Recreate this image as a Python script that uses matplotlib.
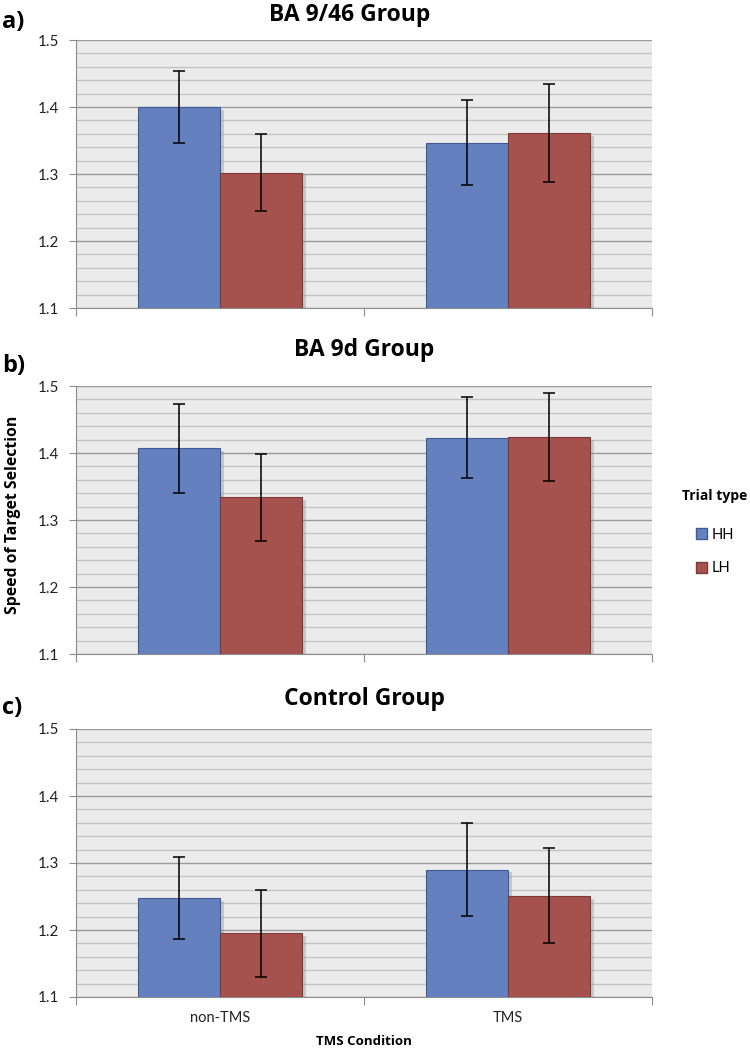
import matplotlib
matplotlib.use("Agg")
import matplotlib.pyplot as plt
import matplotlib.patheffects as pe
import numpy as np
from matplotlib.ticker import MultipleLocator
from matplotlib.patches import Patch

plt.rcParams['font.family'] = ['Lato', 'DejaVu Sans']
BOLD = ['Open Sans', 'DejaVu Sans']

categories = ["non-TMS", "TMS"]
series = ["HH", "LH"]
panel_titles = ["BA 9/46 Group", "BA 9d Group", "Control Group"]
panel_labels = ["a)", "b)", "c)"]

a_hh = [1.400, 1.347]
a_hh_err = [0.053, 0.063]
a_lh = [1.302, 1.361]
a_lh_err = [0.057, 0.073]

b_hh = [1.407, 1.423]
b_hh_err = [0.066, 0.060]
b_lh = [1.334, 1.424]
b_lh_err = [0.065, 0.066]

c_hh = [1.248, 1.290]
c_hh_err = [0.061, 0.069]
c_lh = [1.195, 1.251]
c_lh_err = [0.065, 0.071]

panels = [(a_hh, a_hh_err, a_lh, a_lh_err),
          (b_hh, b_hh_err, b_lh, b_lh_err),
          (c_hh, c_hh_err, c_lh, c_lh_err)]

blue = "#6580BE"
red = "#A5524F"
blue_edge = "#3F5A96"
red_edge = "#7E3A38"

W, H = 750, 1053
fig = plt.figure(figsize=(W / 100, H / 100), dpi=100)

tops = [40, 386, 729]
bottoms = [308, 654, 997]
left_px, right_px = 76, 652
title_x = [350, 364, 364]
title_base = [21, 356, 705]
label_base = [28, 372, 714]

width = 0.285
x = np.arange(len(categories))
shadow = [pe.SimplePatchShadow(offset=(3, -2), shadow_rgbFace='#888888', alpha=0.35), pe.Normal()]

for i, (hh, hh_e, lh, lh_e) in enumerate(panels):
    ax = fig.add_axes([left_px / W, 1 - bottoms[i] / H,
                       (right_px - left_px) / W, (bottoms[i] - tops[i]) / H])
    ax.set_facecolor("#EBEBEB")
    ax.set_ylim(1.1, 1.5)
    ax.set_xlim(-0.5, 1.5)
    ax.yaxis.set_major_locator(MultipleLocator(0.1))
    ax.yaxis.set_minor_locator(MultipleLocator(0.02))
    ax.grid(axis='y', which='major', color='#9A9A9A', lw=1.0, zorder=0)
    ax.grid(axis='y', which='minor', color='#C4C4C4', lw=1.0, zorder=0)
    ax.set_axisbelow(True)

    b1 = ax.bar(x - width / 2, hh, width, color=blue, edgecolor=blue_edge, lw=0.8, zorder=3)
    b2 = ax.bar(x + width / 2, lh, width, color=red, edgecolor=red_edge, lw=0.8, zorder=3)
    for b in list(b1) + list(b2):
        b.set_path_effects(shadow)
    ax.errorbar(x - width / 2, hh, yerr=hh_e, fmt='none', ecolor='black',
                elinewidth=1.1, capsize=4, capthick=1.1, zorder=4)
    ax.errorbar(x + width / 2, lh, yerr=lh_e, fmt='none', ecolor='black',
                elinewidth=1.1, capsize=4, capthick=1.1, zorder=4)

    for s in ['top', 'right']:
        ax.spines[s].set_visible(False)
    ax.spines['left'].set_color('#8C8C8C')
    ax.spines['bottom'].set_color('#8C8C8C')
    ax.tick_params(axis='y', which='major', length=5, color='#8C8C8C', labelsize=11,
                   labelcolor='#222222', pad=7)
    ax.tick_params(axis='y', which='minor', length=0)
    ax.set_yticks([1.1, 1.2, 1.3, 1.4, 1.5])
    ax.set_yticklabels([f"{v:.1f}" for v in [1.1, 1.2, 1.3, 1.4, 1.5]])

    ax.set_xticks([-0.5, 0.5, 1.5])
    ax.set_xticklabels([])
    ax.set_xticks(x, minor=True)
    ax.tick_params(axis='x', which='major', length=6, color='#8C8C8C', direction='out')
    ax.tick_params(axis='x', which='minor', length=0, labelsize=10.5, pad=10,
                   labelcolor='#222222')
    if i == 2:
        ax.set_xticklabels(categories, minor=True)
        ax.set_xlabel("TMS Condition", fontsize=9.5, fontweight='bold', labelpad=7,
                      family=BOLD)

    fig.text(title_x[i] / W, 1 - title_base[i] / H, panel_titles[i], fontsize=16.5,
             fontweight='bold', va='baseline', ha='center', family=BOLD)
    fig.text(2 / W, 1 - label_base[i] / H, panel_labels[i], fontsize=17,
             fontweight='bold', va='baseline', ha='left', family=BOLD)

fig.text(13 / W, 1 - 515 / H, "Speed of Target Selection", rotation=90,
         fontsize=11.3, fontweight='bold', va='center', ha='center', family=BOLD)

handles = [Patch(facecolor=blue, edgecolor=blue_edge), Patch(facecolor=red, edgecolor=red_edge)]
leg = fig.legend(handles, series, title="Trial type", loc='center',
                 bbox_to_anchor=(715 / W, 1 - 532 / H), frameon=False, fontsize=10.5,
                 title_fontproperties={'weight': 'bold', 'size': 10, 'family': BOLD},
                 handlelength=0.8, handleheight=0.8, handletextpad=0.3, labelspacing=1.35)
leg._legend_box.sep = 18

fig.savefig("out.png", dpi=100)
